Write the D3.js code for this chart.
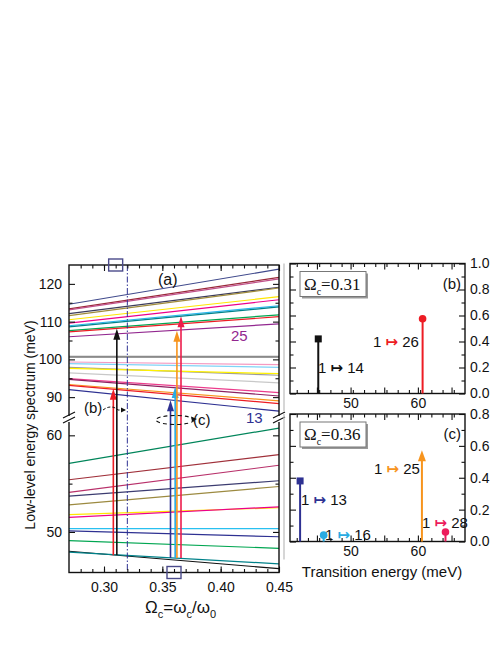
<!DOCTYPE html>
<html>
<head>
<meta charset="utf-8">
<script src="https://cdn.jsdelivr.net/npm/d3@7"></script>
<style>
  body { margin: 0; background: #fff; }
  text { font-family: "Liberation Sans", Arial, sans-serif; fill: #111; }
  .tick text { font-size: 14px; }
  .tick line { stroke: #111; stroke-width: 1.1; }
</style>
</head>
<body>
<svg id="fig" width="501" height="649"></svg>
<script>
// level energies (meV) at the left (0.27) and right (0.45) edges of panel (a)
const upperStart = [114.6, 113.4, 113.1, 112.1, 111.6, 110.5, 109.6, 108.9, 108.6, 107.6, 107.3, 106.0,
  100.8, 100.5, 99.3, 98.9, 97.9, 97.6, 96.4, 94.9, 94.7, 93.35, 93.1, 92.0];
const upperEnd = [123.9, 121.7, 121.3, 119.1, 118.9, 116.6, 115.8, 114.2, 113.9, 111.8, 111.3, 109.4,
  100.8, 100.5, 98.6, 97.9, 95.8, 96.2, 93.8, 91.2, 90.3, 89.0, 88.3, 86.3];
const upperColors = ['#404a8c', '#9a2a3a', '#c0508a', '#3c3c5c', '#a08c3c', '#ffe600', '#ec008c', '#29b6ef',
  '#00828a', '#00a651', '#ed1c24', '#92278f',
  '#8a8a8a', '#9a9a9a', '#f49ac1', '#7fd3f7', '#9a9a9a', '#fff200', '#c8c8c8', '#ec3c8c', '#8c2060',
  '#f7941d', '#ed1c24', '#2e3192'];

const lowerStart = [57.1, 55.4, 54.1, 53.7, 52.8, 51.8, 51.5, 50.35, 50.1, 49.1, 48.0, 47.9];
const lowerEnd = [60.75, 58.0, 56.9, 55.3, 54.7, 52.5, 52.6, 50.35, 49.5, 48.3, 46.2, 46.7];
const lowerColors = ['#00855a', '#a0303a', '#b8306a', '#3c3c70', '#9c8a40', '#ffe600', '#ec008c', '#29c0f0',
  '#2e3192', '#00a651', '#111111', '#00828a'];

// transitions drawn as arrows in panel (a)
const transOmega = [0.308, 0.311, 0.357, 0.361, 0.3625, 0.366];
const transFrom = [47.6, 47.6, 47.3, 47.3, 47.3, 47.3];
const transTo = [92.2, 108.1, 89.2, 92.7, 107.6, 111.4];
const transColors = ['#ed1c24', '#111111', '#2e3192', '#29abe2', '#f7941d', '#ed1c4c'];
const markOmega = [0.31, 0.36];
const cutOmega = 0.32;

const omegaTicks = [0.30, 0.35, 0.40, 0.45];
const upperTicks = [90, 100, 110, 120];
const lowerTicks = [50, 60];

// absorption spectra (b) and (c)
const energyB = [45.2, 60.7];
const weightB = [0.42, 0.575];
const finalB = ['14', '26'];
const energyC = [42.5, 46.0, 60.6, 64.1];
const weightC = [0.38, 0.04, 0.56, 0.06];
const finalC = ['13', '16', '25', '28'];
const energyTicks = [50, 60];

const svg = d3.select('#fig');

const x = d3.scaleLinear().domain([0.27, 0.45]).range([69, 279]);
const yUp = d3.scaleLinear().domain([85, 125]).range([416, 265]);
const yLo = d3.scaleLinear().domain([45.8, 62]).range([572.5, 416]);

const axisG = (sel, tx, ty) => sel.append('g').attr('transform', `translate(${tx},${ty})`);
const cleanDomain = g => g.select('.domain').remove();

// ---- panel (a) ----
const gLines = svg.append('g');
upperStart.forEach((v, i) => {
  gLines.append('line')
    .attr('x1', x(0.27)).attr('x2', x(0.45))
    .attr('y1', yUp(v)).attr('y2', yUp(upperEnd[i]))
    .attr('stroke', upperColors[i]).attr('stroke-width', 1.2);
});
lowerStart.forEach((v, i) => {
  gLines.append('line')
    .attr('x1', x(0.27)).attr('x2', x(0.45))
    .attr('y1', yLo(v)).attr('y2', yLo(lowerEnd[i]))
    .attr('stroke', lowerColors[i]).attr('stroke-width', 1.2);
});

// dash-dot cut
gLines.append('line')
  .attr('x1', x(cutOmega)).attr('x2', x(cutOmega))
  .attr('y1', yUp(125)).attr('y2', yLo(45.8))
  .attr('stroke', '#2e3192').attr('stroke-width', 1)
  .attr('stroke-dasharray', '6,2,1.5,2');

transOmega.forEach((w, i) => {
  const xp = x(w);
  const yTip = yUp(transTo[i]);
  gLines.append('line')
    .attr('x1', xp).attr('x2', xp)
    .attr('y1', yLo(transFrom[i])).attr('y2', yTip + 8)
    .attr('stroke', transColors[i]).attr('stroke-width', 1.6);
  gLines.append('path')
    .attr('d', `M${xp},${yTip} L${xp - 3.5},${yTip + 11} L${xp + 3.5},${yTip + 11} Z`)
    .attr('fill', transColors[i]);
});

// frame and ticks
svg.append('rect')
  .attr('x', 69).attr('y', 265).attr('width', 210).attr('height', 307.5)
  .attr('fill', 'none').attr('stroke', '#111').attr('stroke-width', 1.4);

const xb = axisG(svg, 0, 572.5).call(d3.axisBottom(x).tickValues(omegaTicks).tickSize(-6).tickPadding(10).tickFormat(d3.format('.2f')));
cleanDomain(xb);
const xbm = axisG(svg, 0, 572.5).call(d3.axisBottom(x).tickValues(d3.range(0.28, 0.45, 0.01)).tickSize(-3.5).tickFormat(''));
cleanDomain(xbm);
const xt = axisG(svg, 0, 265).call(d3.axisTop(x).tickValues(omegaTicks).tickSize(-6).tickFormat(''));
cleanDomain(xt);
const xtm = axisG(svg, 0, 265).call(d3.axisTop(x).tickValues(d3.range(0.28, 0.45, 0.01)).tickSize(-3.5).tickFormat(''));
cleanDomain(xtm);

[[yUp, upperTicks, [95, 105, 115]], [yLo, lowerTicks, [55]]].forEach(([s, t, m]) => {
  cleanDomain(axisG(svg, 69, 0).call(d3.axisLeft(s).tickValues(t).tickSize(-6).tickPadding(7)));
  cleanDomain(axisG(svg, 69, 0).call(d3.axisLeft(s).tickValues(m).tickSize(-3.5).tickFormat('')));
  cleanDomain(axisG(svg, 279, 0).call(d3.axisRight(s).tickValues(t).tickSize(-6).tickFormat('')));
  cleanDomain(axisG(svg, 279, 0).call(d3.axisRight(s).tickValues(m).tickSize(-3.5).tickFormat('')));
});

// axis breaks
[69, 279].forEach(xp => {
  svg.append('rect').attr('x', xp - 3).attr('y', 416).attr('width', 6).attr('height', 6).attr('fill', '#fff');
  [0, 5].forEach(d => {
    svg.append('line')
      .attr('x1', xp - 6).attr('y1', 418 + d).attr('x2', xp + 6).attr('y2', 412 + d)
      .attr('stroke', '#111').attr('stroke-width', 1.2);
  });
});

// small squares marking the cuts
markOmega.forEach((w, i) => {
  const yc = i === 0 ? 265 : 572.5;
  svg.append('rect')
    .attr('x', x(w) - 7).attr('y', yc - 6).attr('width', 14).attr('height', 12)
    .attr('fill', 'none').attr('stroke', '#4a4a8a').attr('stroke-width', 1.4);
});

svg.append('text').attr('x', 158).attr('y', 285).attr('font-size', 16).text('(a)');
svg.append('text').attr('x', 231).attr('y', 341).attr('font-size', 15).style('fill', '#92278f').text('25');
svg.append('text').attr('x', 246).attr('y', 423).attr('font-size', 15).style('fill', '#2e3192').text('13');

// (b) and (c) callouts
svg.append('text').attr('x', 84).attr('y', 413).attr('font-size', 15).text('(b)');
svg.append('path')
  .attr('d', 'M103,410 C108,406 114,406 118,410 L125,410')
  .attr('fill', 'none').attr('stroke', '#111').attr('stroke-width', 1).attr('stroke-dasharray', '3,2');
svg.append('path').attr('d', 'M126,410 L121,407.5 L121,412.5 Z').attr('fill', '#111');
svg.append('ellipse')
  .attr('cx', 175).attr('cy', 420).attr('rx', 19).attr('ry', 4.5)
  .attr('fill', 'none').attr('stroke', '#111').attr('stroke-width', 1.1).attr('stroke-dasharray', '4,3');
svg.append('path').attr('d', 'M197,419 L191,416.5 L192,421.5 Z').attr('fill', '#111');
svg.append('text').attr('x', 193).attr('y', 425).attr('font-size', 15).text('(c)');

// axis titles
svg.append('text')
  .attr('transform', 'translate(35,425) rotate(-90)')
  .attr('text-anchor', 'middle').attr('font-size', 14)
  .text('Low-level energy spectrum (meV)');

const omt = svg.append('text').attr('x', 145).attr('y', 613).attr('font-size', 17);
omt.append('tspan').text('Ω');
omt.append('tspan').attr('font-size', 11).attr('dy', 5).text('c');
omt.append('tspan').attr('dy', -5).text('=ω');
omt.append('tspan').attr('font-size', 11).attr('dy', 5).text('c');
omt.append('tspan').attr('dy', -5).text('/ω');
omt.append('tspan').attr('font-size', 11).attr('dy', 5).text('0');

// ---- spectra panels ----
const xe = d3.scaleLinear().domain([41, 67]).range([290, 465]);

const spectrum = (top, bottom, maxW, omega, tag, energies, weights, finals, colors, shapes, labelPos) => {
  const yw = d3.scaleLinear().domain([0, maxW]).range([bottom, top]);

  svg.append('line')
    .attr('x1', 284).attr('x2', 284).attr('y1', top).attr('y2', bottom + 18)
    .attr('stroke', '#bbb').attr('stroke-width', 1.2);
  svg.append('rect')
    .attr('x', 290).attr('y', top).attr('width', 175).attr('height', bottom - top)
    .attr('fill', 'none').attr('stroke', '#111').attr('stroke-width', 1.4);

  const majorY = d3.range(0, maxW + 0.01, 0.2);
  const minorY = d3.range(0.1, maxW, 0.2);
  cleanDomain(axisG(svg, 465, 0).call(d3.axisRight(yw).tickValues(majorY).tickSize(-6).tickPadding(5).tickFormat(d3.format('.1f'))));
  cleanDomain(axisG(svg, 465, 0).call(d3.axisRight(yw).tickValues(minorY).tickSize(-3.5).tickFormat('')));
  cleanDomain(axisG(svg, 290, 0).call(d3.axisLeft(yw).tickValues(majorY).tickSize(-6).tickFormat('')));
  cleanDomain(axisG(svg, 290, 0).call(d3.axisLeft(yw).tickValues(minorY).tickSize(-3.5).tickFormat('')));

  const majorX = [45, 50, 55, 60, 65];
  const minorX = d3.range(42, 67, 5 / 3).filter(v => Math.abs((v % 5)) > 0.1 && Math.abs((v % 5) - 5) > 0.1);
  cleanDomain(axisG(svg, 0, bottom).call(d3.axisBottom(xe).tickValues(majorX).tickSize(-6).tickPadding(5)
    .tickFormat(v => energyTicks.includes(v) ? v : '')));
  cleanDomain(axisG(svg, 0, bottom).call(d3.axisBottom(xe).tickValues(minorX).tickSize(-3.5).tickFormat('')));
  cleanDomain(axisG(svg, 0, top).call(d3.axisTop(xe).tickValues(majorX).tickSize(-6).tickFormat('')));
  cleanDomain(axisG(svg, 0, top).call(d3.axisTop(xe).tickValues(minorX).tickSize(-3.5).tickFormat('')));

  // Ω box
  svg.append('rect').attr('x', 302).attr('y', top + 10).attr('width', 66).attr('height', 25).attr('fill', '#999');
  svg.append('rect').attr('x', 300).attr('y', top + 8).attr('width', 66).attr('height', 25)
    .attr('fill', '#fff').attr('stroke', '#777').attr('stroke-width', 1);
  const ot = svg.append('text').attr('x', 304).attr('y', top + 26)
    .style('font-family', '"Liberation Serif", "Times New Roman", serif').attr('font-size', 17);
  ot.append('tspan').text('Ω');
  ot.append('tspan').attr('font-size', 10).attr('dy', 5).text('c');
  ot.append('tspan').attr('dy', -5).text('=' + omega);
  svg.append('text').attr('x', 461).attr('y', top + 25).attr('text-anchor', 'end').attr('font-size', 15).text(tag);

  energies.forEach((e, i) => {
    const xp = xe(e);
    const yp = yw(weights[i]);
    svg.append('line')
      .attr('x1', xp).attr('x2', xp).attr('y1', bottom).attr('y2', shapes[i] === 'arrow' ? yp + 6 : yp)
      .attr('stroke', colors[i]).attr('stroke-width', 2);
    if (shapes[i] === 'square') {
      svg.append('rect').attr('x', xp - 3.5).attr('y', yp - 3.5).attr('width', 7).attr('height', 7).attr('fill', colors[i]);
    } else if (shapes[i] === 'circle') {
      svg.append('circle').attr('cx', xp).attr('cy', yp).attr('r', 3.8).attr('fill', colors[i]);
    } else {
      svg.append('path').attr('d', `M${xp},${yp - 2} L${xp - 4},${yp + 9} L${xp + 4},${yp + 9} Z`).attr('fill', colors[i]);
    }
    const t = svg.append('text').attr('x', labelPos[i][0]).attr('y', labelPos[i][1]).attr('font-size', 15);
    t.append('tspan').text('1 ');
    t.append('tspan').style('fill', colors[i]).style('font-family', '"DejaVu Sans", sans-serif')
      .attr('font-weight', 'bold').text('↦');
    t.append('tspan').text(' ' + finals[i]);
  });
};

spectrum(263.5, 393.5, 1.0, '0.31', '(b)', energyB, weightB, finalB,
  ['#111111', '#ed1c24'], ['square', 'circle'], [[318, 373], [373, 347]]);
spectrum(414, 541.5, 0.8, '0.36', '(c)', energyC, weightC, finalC,
  ['#2e3192', '#29abe2', '#f7941d', '#ec1c5c'], ['square', 'circle', 'arrow', 'circle'],
  [[301, 505], [325, 540], [374, 474], [422, 528]]);

svg.append('text').attr('x', 382).attr('y', 577).attr('text-anchor', 'middle').attr('font-size', 15)
  .text('Transition energy (meV)');
</script>
</body>
</html>
